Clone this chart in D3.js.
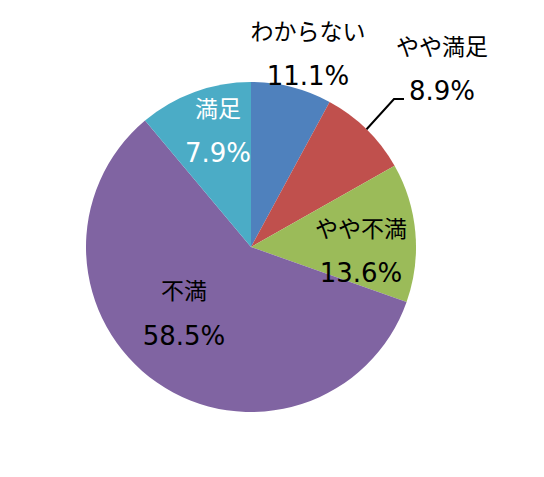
<!DOCTYPE html>
<html><head><meta charset="utf-8">
<script src="https://cdn.jsdelivr.net/npm/d3@7"></script>
<style>body{margin:0;background:#fff}svg{display:block}</style>
</head><body>
<svg id="c" width="544" height="477"></svg>
<script>
// Slices in drawing order (clockwise from 12 o'clock)
const categories = ["満足","やや満足","やや不満","不満","わからない"];
const values = [7.9, 8.9, 13.6, 58.5, 11.1];
const colors = ["#4F81BD","#C0504D","#9BBB59","#8064A2","#4BACC6"];

const svg = d3.select("#c");
const cx = 251, cy = 247, r = 165;
const g = svg.append("g").attr("transform", `translate(${cx},${cy})`);
const pie = d3.pie().sort(null).value(d => d)(values);
const arc = d3.arc().innerRadius(0).outerRadius(r);
g.selectAll("path").data(pie).join("path")
  .attr("d", arc).attr("fill", (d,i)=>colors[i]);

// Label placements (as manually placed in the reference)
// [centerX, nameBaseline, valueBaseline, color]
const place = {
  "満足":      [218, 117, 162, "#fff"],
  "やや満足":  [442, 55, 100, "#000"],
  "やや不満":  [361, 237, 282, "#000"],
  "不満":      [184, 299, 345, "#000"],
  "わからない":[308, 40, 85, "#000"]
};
categories.forEach((c,i)=>{
  const [x, yn, yv, col] = place[c];
  svg.append("text").attr("x",x).attr("y",yn).attr("text-anchor","middle")
    .attr("font-family","'Noto Sans CJK JP', sans-serif").attr("font-size",23)
    .attr("fill",col).text(c);
  svg.append("text").attr("x",x).attr("y",yv).attr("text-anchor","middle")
    .attr("font-family","'DejaVu Sans', sans-serif").attr("font-size",26)
    .attr("fill",col).text(d3.format(".1f")(values[i])+"%");
});

// leader line for やや満足
const d1 = pie[1];
const mid = (d1.startAngle+d1.endAngle)/2;
const p0 = [cx + Math.sin(mid)*r, cy - Math.cos(mid)*r];
svg.append("polyline")
  .attr("points", [p0,[394,99],[404,99]].map(p=>p.join(",")).join(" "))
  .attr("fill","none").attr("stroke","#000").attr("stroke-width",2);
</script>
</body></html>
